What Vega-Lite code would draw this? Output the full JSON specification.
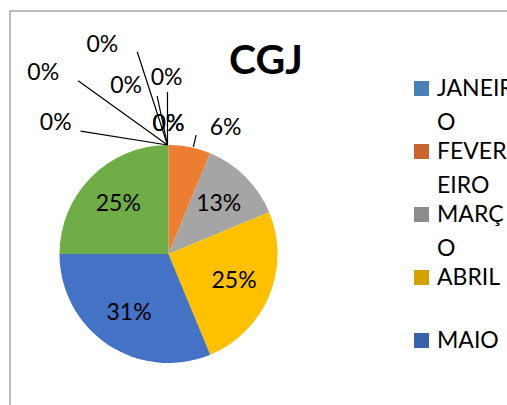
{
  "$schema": "https://vega.github.io/schema/vega-lite/v6.json",
  "width": 512,
  "height": 410,
  "autosize": {"type": "none"},
  "padding": {"left": 10, "top": 11, "right": -15, "bottom": -16},
  "background": "white",
  "config": {
    "view": {"stroke": "#a6a6a6", "strokeWidth": 1.5},
    "font": "Lato",
    "style": {"guide-label": {"lineHeight": 34}}
  },
  "title": {
    "text": "CGJ",
    "font": "Lato",
    "fontSize": 41,
    "fontWeight": "bold",
    "color": "#000000",
    "anchor": "middle",
    "offset": -92,
    "baseline": "middle"
  },
  "data": {
    "values": [
      {"mes": "JANEIRO", "n": 1, "pct": 0},
      {"mes": "FEVEREIRO", "n": 2, "pct": 0.0625},
      {"mes": "MARÇO", "n": 3, "pct": 0.125},
      {"mes": "ABRIL", "n": 4, "pct": 0.25},
      {"mes": "MAIO", "n": 5, "pct": 0.3125},
      {"mes": "JUNHO", "n": 6, "pct": 0.25},
      {"mes": "JULHO", "n": 7, "pct": 0},
      {"mes": "AGOSTO", "n": 8, "pct": 0},
      {"mes": "SETEMBRO", "n": 9, "pct": 0},
      {"mes": "OUTUBRO", "n": 10, "pct": 0},
      {"mes": "NOVEMBRO", "n": 11, "pct": 0},
      {"mes": "DEZEMBRO", "n": 12, "pct": 0}
    ]
  },
  "layer": [
    {
      "mark": {"type": "arc", "outerRadius": 109, "stroke": null},
      "encoding": {
        "x": {"value": 158.5},
        "y": {"value": 243},
        "theta": {"field": "pct", "type": "quantitative", "stack": true},
        "order": {"field": "n", "type": "quantitative"},
        "color": {
          "field": "mes",
          "type": "nominal",
          "sort": null,
          "legend": null,
          "scale": {
            "domain": ["JANEIRO", "FEVEREIRO", "MARÇO", "ABRIL", "MAIO", "JUNHO", "JULHO", "AGOSTO", "SETEMBRO", "OUTUBRO", "NOVEMBRO", "DEZEMBRO"],
            "range": ["#5b9bd5", "#ed7d31", "#a5a5a5", "#ffc000", "#4472c4", "#70ad47", "#255e91", "#9e480e", "#636363", "#997300", "#264478", "#43682b"]
          }
        }
      }
    },
    {
      "mark": {"type": "arc", "outerRadius": 0, "innerRadius": 0, "stroke": null},
      "encoding": {
        "x": {"value": 158.5},
        "y": {"value": 243},
        "color": {
          "field": "mes",
          "type": "nominal",
          "sort": null,
          "scale": {
            "domain": ["JANEIRO", "FEVEREIRO", "MARÇO", "ABRIL", "MAIO", "JUNHO", "JULHO", "AGOSTO", "SETEMBRO", "OUTUBRO", "NOVEMBRO", "DEZEMBRO"],
            "range": ["#4a80b8", "#c8642c", "#8c8c8c", "#d4a200", "#3a62a8", "#5e9440", "#255e91", "#9e480e", "#636363", "#997300", "#264478", "#43682b"]
          },
          "legend": {
            "orient": "none",
            "legendX": 400,
            "legendY": 66,
            "padding": 0,
            "title": null,
            "values": ["JANEIRO", "FEVEREIRO", "MARÇO", "ABRIL", "MAIO"],
            "symbolType": "square",
            "symbolSize": 225,
            "symbolStrokeWidth": 0,
            "symbolOpacity": 1,
            "labelFont": "Lato",
            "labelFontSize": 23,
            "labelColor": "#000000",
            "labelLimit": 0,
            "labelOffset": 4,
            "rowPadding": 5,
            "labelExpr": "datum.label == 'JANEIRO' ? ['JANEIR','O'] : datum.label == 'FEVEREIRO' ? ['FEVER','EIRO'] : datum.label == 'MARÇO' ? ['MARÇ','O'] : datum.label == 'ABRIL' ? ['ABRIL',' '] : datum.label"
          }
        }
      }
    },
    {
      "mark": {"type": "text", "radius": 71, "font": "Lato", "fontSize": 23, "color": "#000000"},
      "encoding": {
        "x": {"value": 158.5},
        "y": {"value": 243},
        "theta": {"field": "pct", "type": "quantitative", "stack": true},
        "order": {"field": "n", "type": "quantitative"},
        "text": {"field": "pct", "type": "quantitative", "format": ".0%"},
        "opacity": {"condition": {"test": "datum.pct >= 0.1", "value": 1}, "value": 0}
      }
    },
    {
      "mark": {"type": "text", "radius": 138, "thetaOffset": 0.23, "font": "Lato", "fontSize": 23, "color": "#000000"},
      "encoding": {
        "x": {"value": 158.5},
        "y": {"value": 243},
        "theta": {"field": "pct", "type": "quantitative", "stack": true},
        "order": {"field": "n", "type": "quantitative"},
        "text": {"field": "pct", "type": "quantitative", "format": ".0%"},
        "opacity": {"condition": {"test": "datum.pct > 0 && datum.pct < 0.1", "value": 1}, "value": 0}
      }
    },
    {
      "transform": [{"filter": "datum.pct == 0"}],
      "mark": {"type": "text", "font": "Lato", "fontSize": 23, "color": "#000000"},
      "encoding": {
        "x": {"value": 158.5},
        "y": {"value": 243},
        "theta": {
          "field": "n",
          "type": "quantitative",
          "stack": null,
          "scale": {
            "type": "linear",
            "zero": false,
            "nice": false,
            "domain": [1, 7, 8, 9, 10, 11, 12],
            "range": [0, 5.5728, 5.6775, 5.976, 6.0353, 6.2727, 6.2832]
          }
        },
        "radius": {
          "field": "n",
          "type": "quantitative",
          "scale": {
            "type": "linear",
            "zero": false,
            "nice": false,
            "domain": [1, 7, 8, 9, 10, 11, 12],
            "range": [130, 173, 220, 219, 173, 176, 130]
          }
        },
        "text": {"field": "pct", "type": "quantitative", "format": ".0%"}
      }
    },
    {
      "transform": [{"filter": "datum.pct == 0 && datum.n >= 7 && datum.n <= 11"}],
      "mark": {"type": "arc", "innerRadius": 0, "fill": null, "stroke": "#000000", "strokeWidth": 1.2},
      "encoding": {
        "x": {"value": 157.5},
        "y": {"value": 134},
        "theta": {
          "field": "n",
          "type": "quantitative",
          "stack": null,
          "scale": {
            "type": "linear",
            "zero": false,
            "nice": false,
            "domain": [7, 8, 9, 10, 11],
            "range": [4.871, 5.335, 5.969, 6.075, 6.283]
          }
        },
        "theta2": {"field": "n"},
        "radius": {
          "field": "n",
          "type": "quantitative",
          "scale": {
            "type": "linear",
            "zero": false,
            "nice": false,
            "domain": [7, 8, 9, 10, 11],
            "range": [88, 110, 98, 50, 53]
          }
        }
      }
    },
    {
      "transform": [{"filter": "datum.n == 2"}],
      "mark": {"type": "arc", "innerRadius": 110, "fill": null, "stroke": "#000000", "strokeWidth": 1.2},
      "encoding": {
        "x": {"value": 158.5},
        "y": {"value": 243},
        "theta": {
          "field": "n",
          "type": "quantitative",
          "stack": null,
          "scale": {"type": "linear", "zero": false, "nice": false, "domain": [2, 3], "range": [0.228, 0.3]}
        },
        "theta2": {"field": "n"},
        "radius": {
          "field": "n",
          "type": "quantitative",
          "scale": {"type": "linear", "zero": false, "nice": false, "domain": [2, 3], "range": [122, 130]}
        }
      }
    }
  ],
  "resolve": {"scale": {"theta": "independent", "radius": "independent", "color": "independent"}}
}
